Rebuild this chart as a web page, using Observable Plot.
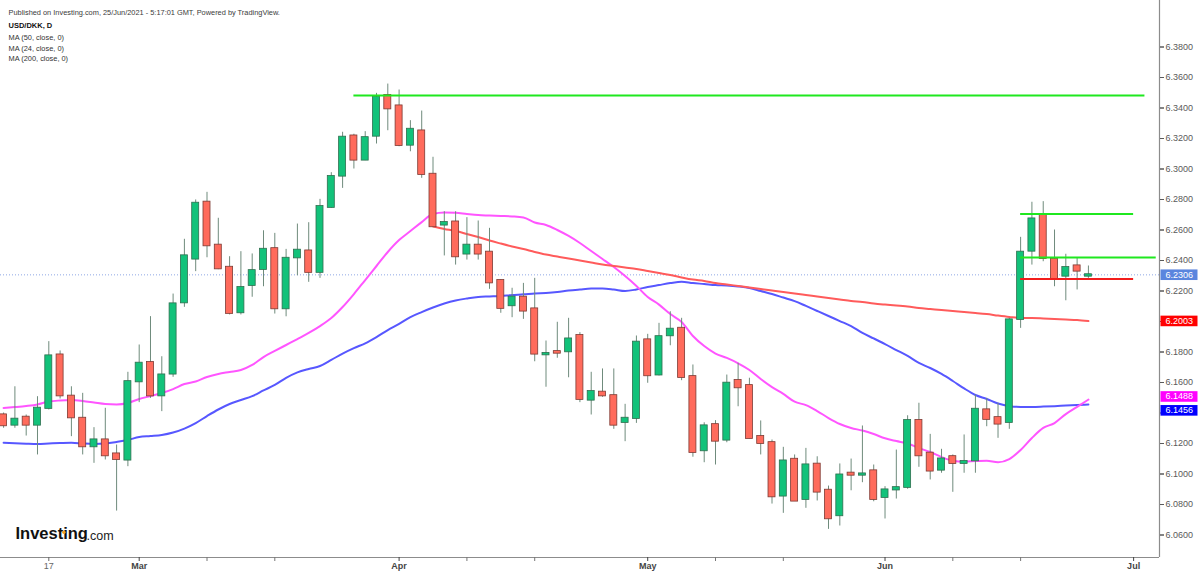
<!DOCTYPE html>
<html>
<head>
<meta charset="utf-8">
<script src="https://cdn.jsdelivr.net/npm/d3@7"></script>
<script src="https://cdn.jsdelivr.net/npm/@observablehq/plot@0.6"></script>
<style>
  html, body { margin: 0; padding: 0; background: #ffffff; }
  #chart svg { display: block; }
</style>
</head>
<body>
<div id="chart"></div>
<script>
// ---------- data ----------
const dates = ["2021-02-11","2021-02-12","2021-02-15","2021-02-16","2021-02-17","2021-02-18","2021-02-19","2021-02-22","2021-02-23","2021-02-24","2021-02-25","2021-02-26",
"2021-03-01","2021-03-02","2021-03-03","2021-03-04","2021-03-05","2021-03-08","2021-03-09","2021-03-10","2021-03-11","2021-03-12","2021-03-15","2021-03-16","2021-03-17","2021-03-18","2021-03-19","2021-03-22","2021-03-23","2021-03-24","2021-03-25","2021-03-26","2021-03-29","2021-03-30","2021-03-31",
"2021-04-01","2021-04-02","2021-04-05","2021-04-06","2021-04-07","2021-04-08","2021-04-09","2021-04-12","2021-04-13","2021-04-14","2021-04-15","2021-04-16","2021-04-19","2021-04-20","2021-04-21","2021-04-22","2021-04-23","2021-04-26","2021-04-27","2021-04-28","2021-04-29","2021-04-30",
"2021-05-03","2021-05-04","2021-05-05","2021-05-06","2021-05-07","2021-05-10","2021-05-11","2021-05-12","2021-05-13","2021-05-14","2021-05-17","2021-05-18","2021-05-19","2021-05-20","2021-05-21","2021-05-24","2021-05-25","2021-05-26","2021-05-27","2021-05-28","2021-05-31",
"2021-06-01","2021-06-02","2021-06-03","2021-06-04","2021-06-07","2021-06-08","2021-06-09","2021-06-10","2021-06-11","2021-06-14","2021-06-15","2021-06-16","2021-06-17","2021-06-18","2021-06-21","2021-06-22","2021-06-23","2021-06-24","2021-06-25"];

// trading-day index of the first date (Feb 17 = 0)
const firstIndex = -4;

const open = [6.1387,6.1321,6.1372,6.1321,6.1431,6.1780,6.1510,6.1365,6.1179,6.1223,6.1131,6.1092,
6.1605,6.1730,6.1513,6.1656,6.2123,6.2410,6.2782,6.2500,6.2355,6.2058,6.2237,6.2342,6.2477,6.2084,6.2418,6.2462,6.2323,6.2749,6.2954,6.3216,6.3059,6.3216,6.3481,
6.3413,6.3157,6.3249,6.2965,6.2633,6.2652,6.2443,6.2500,6.2454,6.2268,6.2104,6.2159,6.2082,6.1782,6.1802,6.1802,6.1907,6.1485,6.1536,6.1513,6.1339,6.1365,
6.1879,6.1650,6.1907,6.1955,6.1638,6.1153,6.1323,6.1223,6.1612,6.1579,6.1245,6.1205,6.0856,6.1096,6.0834,6.1064,6.0893,6.0727,6.1005,6.0993,6.1020,
6.0847,6.0896,6.0913,6.1350,6.1136,6.1026,6.1113,6.1070,6.1087,6.1420,6.1369,6.1339,6.2014,6.2462,6.2698,6.2408,6.2298,6.2364,6.2298];

const high = [6.1400,6.1572,6.1387,6.1507,6.1868,6.1807,6.1572,6.1529,6.1304,6.1431,6.1190,6.1667,
6.1846,6.2032,6.1769,6.2180,6.2539,6.2797,6.2847,6.2677,6.2425,6.2458,6.2443,6.2595,6.2578,6.2473,6.2639,6.2648,6.2801,6.2976,6.3241,6.3228,6.3245,6.3496,6.3557,
6.3518,6.3317,6.3380,6.3077,6.2720,6.2720,6.2681,6.2659,6.2611,6.2275,6.2218,6.2250,6.2283,6.1872,6.1995,6.2021,6.1927,6.1667,6.1689,6.1689,6.1457,6.1905,
6.1916,6.1988,6.2064,6.2021,6.1715,6.1336,6.1350,6.1649,6.1726,6.1628,6.1348,6.1223,6.1175,6.1125,6.1168,6.1113,6.0921,6.1066,6.1098,6.1315,6.1059,
6.0917,6.1157,6.1382,6.1464,6.1260,6.1162,6.1125,6.1256,6.1518,6.1496,6.1464,6.2021,6.2552,6.2782,6.2786,6.2600,6.2441,6.2414,6.2364];

const low = [6.1300,6.1300,6.1249,6.1125,6.1420,6.1492,6.1245,6.1125,6.1070,6.1092,6.0757,6.1048,
6.1468,6.1496,6.1409,6.1634,6.2093,6.2327,6.2418,6.2340,6.2043,6.2043,6.2159,6.2228,6.2049,6.2031,6.2300,6.2257,6.2283,6.2742,6.2873,6.3000,6.3055,6.3164,6.3251,
6.3146,6.3113,6.2939,6.2618,6.2430,6.2370,6.2403,6.2403,6.2211,6.2054,6.2025,6.2014,6.1736,6.1569,6.1759,6.1631,6.1468,6.1387,6.1503,6.1293,6.1212,6.1332,
6.1595,6.1643,6.1841,6.1612,6.1110,6.1074,6.1059,6.1205,6.1441,6.1230,6.1125,6.0803,6.0742,6.0820,6.0775,6.0823,6.0637,6.0659,6.0890,6.0943,6.0818,
6.0705,6.0836,6.0900,6.1044,6.0961,6.1005,6.0880,6.1005,6.1005,6.1310,6.1234,6.1293,6.1955,6.2370,6.2392,6.2228,6.2136,6.2207,6.2283];

const close = [6.1317,6.1359,6.1321,6.1431,6.1774,6.1513,6.1369,6.1179,6.1223,6.1120,6.1096,6.1605,
6.1726,6.1513,6.1649,6.2115,6.2430,6.2775,6.2497,6.2346,6.2054,6.2222,6.2333,6.2473,6.2084,6.2414,6.2467,6.2323,6.2753,6.2950,6.3208,6.3059,6.3205,6.3470,6.3395,
6.3155,6.3260,6.2965,6.2622,6.2648,6.2425,6.2500,6.2443,6.2254,6.2087,6.2159,6.2069,6.1787,6.1790,6.1793,6.1885,6.1490,6.1540,6.1513,6.1321,6.1365,6.1864,
6.1645,6.1900,6.1949,6.1634,6.1142,6.1315,6.1216,6.1595,6.1566,6.1234,6.1201,6.0851,6.1085,6.0823,6.1059,6.0882,6.0707,6.0993,6.0993,6.1000,6.0834,
6.0895,6.0910,6.1350,6.1120,6.1020,6.1098,6.1070,6.1081,6.1424,6.1359,6.1328,6.2010,6.2454,6.2672,6.2414,6.2283,6.2353,6.2331,6.2306];

// moving averages, one value per candle
const ma50 = [6.1205,6.1202,6.1199,6.1197,6.1200,6.1203,6.1205,6.1200,6.1197,6.1200,6.1210,6.1223,
6.1243,6.1249,6.1256,6.1272,6.1298,6.1334,6.1380,6.1423,6.1459,6.1485,6.1511,6.1548,6.1584,6.1630,6.1666,6.1689,6.1708,6.1748,6.1790,6.1826,6.1857,6.1898,6.1944,
6.1984,6.2029,6.2062,6.2092,6.2118,6.2138,6.2151,6.2161,6.2164,6.2167,6.2174,6.2178,6.2184,6.2187,6.2193,6.2203,6.2210,6.2216,6.2217,6.2210,6.2200,6.2210,
6.2226,6.2239,6.2252,6.2261,6.2252,6.2246,6.2239,6.2236,6.2230,6.2220,6.2200,6.2180,6.2157,6.2134,6.2102,6.2069,6.2036,6.2003,6.1970,6.1925,6.1889,
6.1852,6.1813,6.1774,6.1728,6.1695,6.1656,6.1610,6.1561,6.1518,6.1492,6.1462,6.1445,6.1440,6.1440,6.1442,6.1445,6.1449,6.1452,6.1456];

const ma24 = [6.1433,6.1439,6.1446,6.1456,6.1475,6.1482,6.1485,6.1479,6.1469,6.1459,6.1456,6.1466,
6.1492,6.1511,6.1531,6.1557,6.1590,6.1607,6.1636,6.1656,6.1669,6.1682,6.1715,6.1767,6.1807,6.1846,6.1885,6.1925,6.1970,6.2023,6.2095,6.2180,6.2272,6.2364,6.2456,
6.2534,6.2593,6.2652,6.2705,6.2715,6.2713,6.2705,6.2698,6.2695,6.2692,6.2689,6.2682,6.2649,6.2633,6.2600,6.2561,6.2515,6.2462,6.2410,6.2357,6.2298,6.2233,
6.2161,6.2111,6.2049,6.1997,6.1905,6.1839,6.1790,6.1761,6.1726,6.1682,6.1623,6.1570,6.1525,6.1474,6.1452,6.1413,6.1367,6.1328,6.1302,6.1285,6.1262,
6.1234,6.1216,6.1200,6.1170,6.1144,6.1111,6.1087,6.1081,6.1085,6.1087,6.1077,6.1098,6.1157,6.1236,6.1302,6.1334,6.1393,6.1440,6.1488];

// MA(200) is only drawn from Apr 6 on
const ma200Start = "2021-04-06";
const ma200 = [6.2623,6.2607,6.2593,6.2574,6.2554,6.2531,6.2511,6.2492,6.2475,6.2456,6.2439,6.2426,6.2413,6.2400,6.2387,6.2374,6.2364,6.2354,6.2344,
6.2331,6.2318,6.2305,6.2289,6.2275,6.2266,6.2252,6.2243,6.2233,6.2223,6.2213,6.2203,6.2193,6.2184,6.2174,6.2164,6.2154,6.2144,6.2134,6.2128,6.2118,
6.2111,6.2105,6.2098,6.2089,6.2082,6.2075,6.2069,6.2062,6.2056,6.2049,6.2039,6.2030,6.2023,6.2023,6.2020,6.2016,6.2013,6.2010,6.2003];

// hand-drawn horizontal levels (start / end as trading-day index)
const levelValues = [6.3482, 6.2705, 6.2420, 6.2278];
const levelStart  = [27, 86, 86, 86];
const levelEnd    = [97, 96, 98, 96];
const levelColors = ["#1fe81f", "#1fe81f", "#1fe81f", "#f21d1d"];

// axis ticks (labels at 6.14 and 6.20 are covered by the price boxes in the reference)
const yTicks = [6.06,6.08,6.10,6.12,6.14,6.16,6.18,6.20,6.22,6.24,6.26,6.28,6.30,6.32,6.34,6.36,6.38];
const yTicksCovered = [6.14, 6.20];
const xDayTicks = [0];          const xDayLabels = ["17"];
const xMonthTicks = [8, 31, 53, 74, 96];
const xMonthLabels = ["Mar", "Apr", "May", "Jun", "Jul"];
const xMinorTicks = [14, 20, 37, 43, 59, 65, 80, 86];

// price labels on the right axis
const priceLabelValues = [6.2306, 6.2003, 6.1488, 6.1456];
const priceLabelColors = ["#5a85de", "#ff0000", "#ff00ff", "#0000ff"];
const priceLabelShift  = [0, 0, -3, 6];

const headerLine = "Published on Investing.com, 25/Jun/2021 - 5:17:01 GMT, Powered by TradingView.";
const symbolLine = "USD/DKK, D";
const legendLines = ["MA (50, close, 0)", "MA (24, close, 0)", "MA (200, close, 0)"];

// frame of the chart (value range shown)
const xDomain = [-4.274, 98.29];
const yDomain = [6.04525, 6.4105];

// ---------- build tables ----------
const candles = dates.map((d, k) => ({
  date: d, i: k + firstIndex, open: open[k], high: high[k], low: low[k], close: close[k]
}));
const ma50Rows = ma50.map((v, k) => ({i: k + firstIndex, v}));
const ma24Rows = ma24.map((v, k) => ({i: k + firstIndex, v}));
const startK = dates.indexOf(ma200Start);
const ma200Rows = ma200.map((v, k) => ({i: startK + k + firstIndex, v}));
const levels = levelValues.map((v, k) => ({v, x1: levelStart[k], x2: levelEnd[k], c: levelColors[k]}));
const yTicksLabelled = yTicks.filter(t => !yTicksCovered.includes(t));

const upFill = "#12c27a", downFill = "#ff6b5c";
const upEdge = "#2f6f4f", downEdge = "#7d3a33";
const wick = "#6f8b7c";
const font = "'Liberation Sans', Arial, sans-serif";

const chart = Plot.plot({
  width: 1200,
  height: 575,
  marginTop: 0,
  marginLeft: 0,
  marginRight: 41,
  marginBottom: 18,
  x: {type: "linear", domain: xDomain},
  y: {type: "linear", domain: yDomain},
  style: {fontFamily: font, fontSize: "9px", background: "#ffffff", color: "#555"},
  marks: [
    // current price dotted line
    Plot.ruleY([close[close.length - 1]], {stroke: "#8ea7e6", strokeWidth: 1, strokeDasharray: "1,2"}),
    // moving averages
    Plot.line(ma50Rows, {x: "i", y: "v", stroke: "#5757ff", strokeWidth: 2, curve: "monotone-x"}),
    Plot.line(ma24Rows, {x: "i", y: "v", stroke: "#ff55ff", strokeWidth: 2, curve: "monotone-x"}),
    Plot.line(ma200Rows, {x: "i", y: "v", stroke: "#ff5b5b", strokeWidth: 2, curve: "monotone-x"}),
    // candles
    Plot.ruleX(candles, {x: "i", y1: "low", y2: "high", stroke: wick, strokeWidth: 1}),
    Plot.rect(candles, {
      x1: d => d.i - 0.31, x2: d => d.i + 0.31,
      y1: "open", y2: "close",
      fill: d => d.close >= d.open ? upFill : downFill,
      stroke: d => d.close >= d.open ? upEdge : downEdge,
      strokeWidth: 0.8,
      insetTop: -0.6, insetBottom: -0.6
    }),
    // drawn levels
    Plot.ruleY(levels, {y: "v", x1: "x1", x2: "x2", stroke: "c", strokeWidth: 2}),
    // frame lines (bottom and right)
    Plot.ruleY([yDomain[0]], {stroke: "#8c8c8c", strokeWidth: 1.2}),
    Plot.ruleX([xDomain[1]], {stroke: "#8c8c8c", strokeWidth: 1.2}),
    // axes
    Plot.axisY(yTicks, {anchor: "right", tickSize: 4, tickFormat: () => "", color: "#5a5a5a"}),
    Plot.axisY(yTicksLabelled, {anchor: "right", tickSize: 4, tickPadding: 2, tickFormat: d => d.toFixed(4),
      fontSize: 9, color: "#5a5a5a"}),
    Plot.axisX(xMinorTicks, {anchor: "bottom", tickSize: 4, tickFormat: () => "", color: "#777"}),
    Plot.axisX(xDayTicks, {anchor: "bottom", tickSize: 4, tickPadding: 1,
      tickFormat: (d) => xDayLabels[xDayTicks.indexOf(d)], fontSize: 9, color: "#666"}),
    Plot.axisX(xMonthTicks, {anchor: "bottom", tickSize: 4, tickPadding: 1,
      tickFormat: (d) => xMonthLabels[xMonthTicks.indexOf(d)], fontSize: 9, fontWeight: "bold", color: "#444"}),
    // price labels (backgrounds added after render)
    ...priceLabelValues.map((v, k) => Plot.text([v], {
      y: d => d, text: d => d.toFixed(4), frameAnchor: "right", dx: 6, dy: priceLabelShift[k],
      textAnchor: "start", fill: "#ffffff", fontSize: 9, ariaDescription: "price-label-" + k
    })),
    // header
    Plot.text([headerLine], {text: d => d, frameAnchor: "top-left", dx: 8, dy: 9.5,
      textAnchor: "start", fontSize: 7.4, fill: "#3a3a3a"}),
    Plot.text([symbolLine], {text: d => d, frameAnchor: "top-left", dx: 8, dy: 22.5,
      textAnchor: "start", fontSize: 7.5, fontWeight: "bold", fill: "#111"}),
    Plot.text([legendLines.join("\n")], {text: d => d, frameAnchor: "top-left", dx: 8, dy: 32.5,
      textAnchor: "start", lineAnchor: "top", lineHeight: 1.42, fontSize: 7.4, fill: "#333"}),
    // logo
    Plot.text(["Investing"], {text: d => d, frameAnchor: "bottom-left", dx: 15, dy: -19,
      textAnchor: "start", fontSize: 16.5, fontWeight: "bold", fill: "#111", letterSpacing: "-0.3px"}),
    Plot.dot([0], {frameAnchor: "bottom-left", dx: 63.4, dy: -25.3, r: 1.7, fill: "#f5a11c"}),
    Plot.text([".com"], {text: d => d, frameAnchor: "bottom-left", dx: 86, dy: -18,
      textAnchor: "start", fontSize: 12.5, fill: "#222"})
  ]
});

document.getElementById("chart").appendChild(chart);

// colored boxes behind the price labels on the right axis
const svg = d3.select(chart);
priceLabelColors.forEach((c, k) => {
  svg.selectAll(`g[aria-description="price-label-${k}"] text`).each(function () {
    const b = this.getBBox();
    const g = this.parentNode;
    const r = d3.select(g).insert("rect", () => g.firstChild)
      .attr("x", b.x - 5).attr("y", b.y - 0.3)
      .attr("width", 37).attr("height", b.height + 0.6)
      .attr("fill", c);
    const t = this.getAttribute("transform");
    if (t) r.attr("transform", t);
  });
});
</script>
</body>
</html>
